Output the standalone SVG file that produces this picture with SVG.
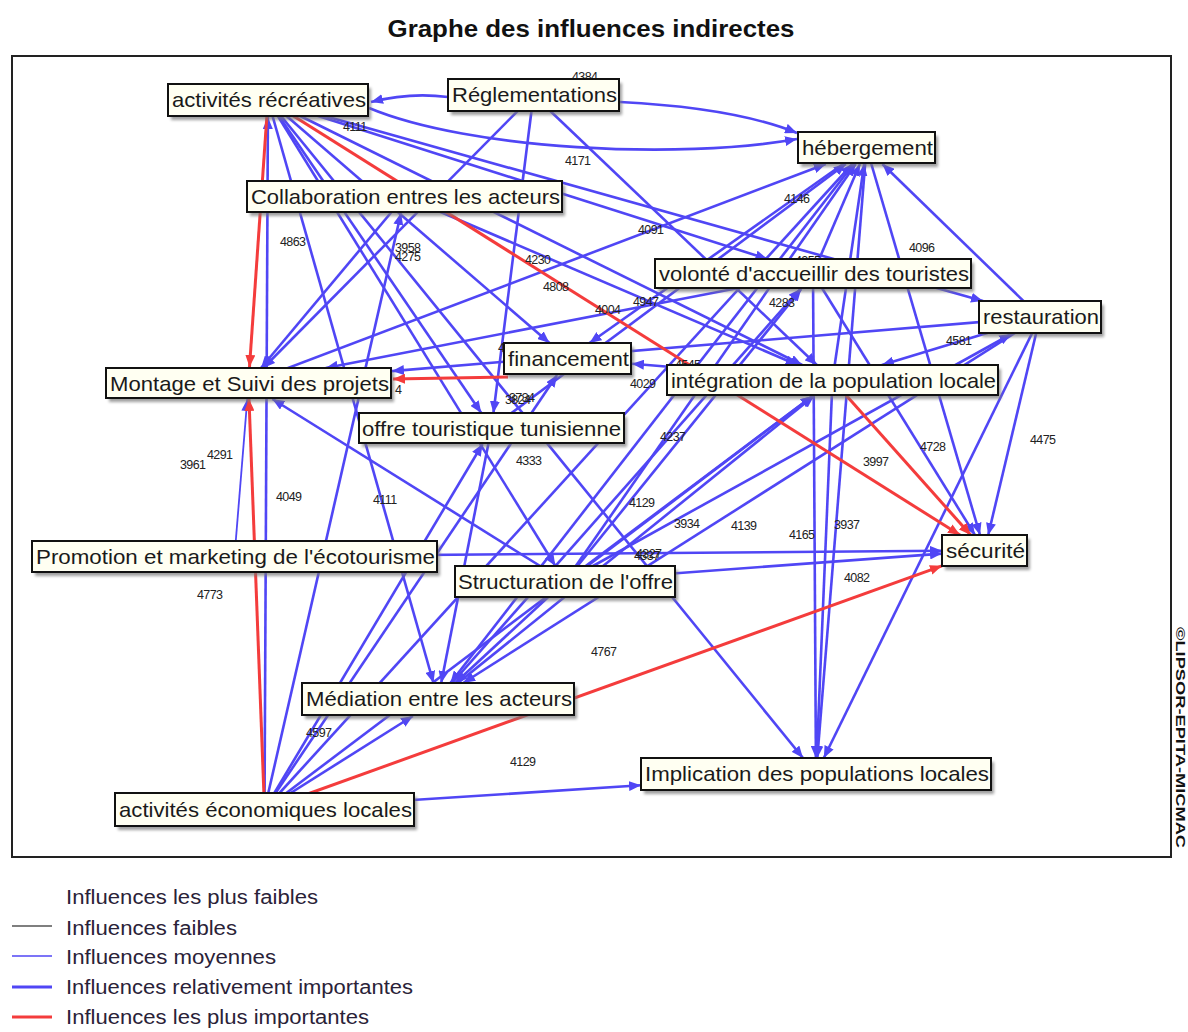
<svg xmlns="http://www.w3.org/2000/svg" width="1188" height="1032" viewBox="0 0 1188 1032">
<style>
.b{stroke:#5046f5;stroke-width:2.6;fill:none;marker-end:url(#ab)}
.bt{stroke:#5046f5;stroke-width:1.8;fill:none;marker-end:url(#ab)}
.r{stroke:#f43c3c;stroke-width:3;fill:none;marker-end:url(#ar)}
.lab{font-family:"Liberation Sans",Arial,sans-serif;font-size:12.5px;fill:#222;letter-spacing:-0.6px}
.box{fill:#fffff2;stroke:#111;stroke-width:2}
.sh{fill:#777;opacity:.7;filter:url(#blur)}
.nt{font-family:"Liberation Sans",Arial,sans-serif;font-size:21px;fill:#1a1a1a}
.lg{font-family:"Liberation Sans",Arial,sans-serif;font-size:20px;fill:#2a2238}
</style>
<defs>
<marker id="ab" markerUnits="userSpaceOnUse" markerWidth="13" markerHeight="10" refX="12" refY="5" orient="auto"><path d="M0,0 L12,5 L0,10 z" fill="#5046f5"/></marker>
<marker id="ar" markerUnits="userSpaceOnUse" markerWidth="13" markerHeight="10" refX="12" refY="5" orient="auto"><path d="M0,0 L12,5 L0,10 z" fill="#f43c3c"/></marker>
<filter id="blur" x="-10%" y="-30%" width="120%" height="160%"><feGaussianBlur stdDeviation="1.5"/></filter>
</defs>
<rect x="0" y="0" width="1188" height="1032" fill="#fff"/>
<text x="591" y="37" text-anchor="middle" font-family="'Liberation Sans',Arial,sans-serif" font-weight="bold" font-size="24" fill="#111" textLength="407" lengthAdjust="spacingAndGlyphs">Graphe des influences indirectes</text>
<rect x="12" y="56" width="1159" height="801" fill="#fff" stroke="#222" stroke-width="2"/>
<text transform="translate(1176,627) rotate(90)" font-family="'Liberation Sans',Arial,sans-serif" font-weight="bold" font-size="13" fill="#111" textLength="221" lengthAdjust="spacingAndGlyphs">©LIPSOR-EPITA-MICMAC</text>

<g id="connectors">
<path class="b" d="M448,97 Q410,92 371,102"/>
<path class="b" d="M369,108 C470,150 680,160 797,139"/>
<path class="b" d="M620,102 C700,106 755,116 797,133"/>
<path class="b" d="M264.5,809.5 L267.9,117"/>
<path class="bt" d="M234.5,556.5 L247.3,399"/>
<path class="b" d="M268,100 L433.5,683"/>
<path class="b" d="M268,100 L481.3,413"/>
<path class="b" d="M268,100 L549.5,343"/>
<path class="b" d="M268,100 L802.2,365"/>
<path class="b" d="M268,100 L767.4,259"/>
<path class="b" d="M268,100 L983,301"/>
<path class="b" d="M533.5,95 L263.3,368"/>
<path class="b" d="M533.5,95 L493.4,413"/>
<path class="b" d="M533.5,95 L816.8,365"/>
<path class="b" d="M404.5,196.5 L261,368"/>
<path class="b" d="M404.5,196.5 L797.5,365"/>
<path class="b" d="M264.5,809.5 L401,213"/>
<path class="b" d="M264.5,809.5 L557.1,375"/>
<path class="b" d="M264.5,809.5 L852.4,164"/>
<path class="b" d="M264.5,809.5 L412.9,716"/>
<path class="b" d="M264.5,809.5 L482.6,444"/>
<path class="b" d="M264.5,809.5 L641,785.3"/>
<path class="b" d="M866.5,147.5 L980,535"/>
<path class="b" d="M1040,317 L988.2,535"/>
<path class="b" d="M813,273.5 L974.9,535"/>
<path class="b" d="M234.5,556.5 L942,550.8"/>
<path class="b" d="M565,581.5 L942,553.6"/>
<path class="b" d="M866.5,147.5 L817.3,758"/>
<path class="b" d="M813,273.5 L815.9,758"/>
<path class="b" d="M832.5,380 L816.7,758"/>
<path class="b" d="M1040,317 L823.8,758"/>
<path class="b" d="M268,100 L803,758"/>
<path class="b" d="M1040,317 L463.2,683"/>
<path class="b" d="M491.5,428 L441.2,683"/>
<path class="b" d="M832.5,380 L632,363.7"/>
<path class="b" d="M1040,317 L392,371.1"/>
<path class="b" d="M248.5,383 L825.8,164"/>
<path class="b" d="M866.5,147.5 L589.5,343"/>
<path class="b" d="M565,581.5 L855.7,164"/>
<path class="b" d="M866.5,147.5 L450.4,683"/>
<path class="b" d="M565,581.5 L812.6,396"/>
<path class="b" d="M438,699 L814,396"/>
<path class="b" d="M565,581.5 L801.3,289"/>
<path class="b" d="M438,699 L800.2,289"/>
<path class="b" d="M264.5,809.5 L812.7,396"/>
<path class="b" d="M565,581.5 L1011.3,334"/>
<path class="b" d="M1040,317 L882.4,164"/>
<path class="b" d="M813,273.5 L325.8,368"/>
<path class="b" d="M268,100 L555.4,566"/>
<path class="b" d="M565,581.5 L272.4,399"/>
<path class="b" d="M565,581.5 L455.3,683"/>
<path class="b" d="M813,273.5 L859.9,164"/>
<path class="b" d="M832.5,380 L864.2,164"/>
<path class="b" d="M491.5,428 L845.8,164"/>
<path class="b" d="M1040,317 L881.9,365"/>
<path class="r" d="M268,100 L249.5,367"/>
<path class="r" d="M264.5,809.5 L249,399"/>
<path class="r" d="M268,100 L960,535"/>
<path class="r" d="M832.5,380 L970.7,535"/>
<path class="r" d="M264.5,809.5 L942,565.8"/>
<path class="r" d="M508,377 L393,379"/>
</g>

<g id="labels">
<text class="lab" x="572" y="81">4384</text>
<text class="lab" x="343" y="131">4111</text>
<text class="lab" x="565" y="165">4171</text>
<text class="lab" x="784" y="203">4146</text>
<text class="lab" x="638" y="234">4091</text>
<text class="lab" x="909" y="252">4096</text>
<text class="lab" x="280" y="246">4863</text>
<text class="lab" x="395" y="252">3958</text>
<text class="lab" x="395" y="261">4275</text>
<text class="lab" x="525" y="264">4230</text>
<text class="lab" x="543" y="291">4808</text>
<text class="lab" x="795" y="265">4255</text>
<text class="lab" x="595" y="314">4004</text>
<text class="lab" x="633" y="306">4947</text>
<text class="lab" x="769" y="307">4283</text>
<text class="lab" x="946" y="345">4581</text>
<text class="lab" x="675" y="369">4545</text>
<text class="lab" x="630" y="388">4029</text>
<text class="lab" x="505" y="404">3824</text>
<text class="lab" x="509" y="402">3734</text>
<text class="lab" x="395" y="394">4</text>
<text class="lab" x="498" y="352">4</text>
<text class="lab" x="660" y="441">4237</text>
<text class="lab" x="920" y="451">4728</text>
<text class="lab" x="1030" y="444">4475</text>
<text class="lab" x="863" y="466">3997</text>
<text class="lab" x="180" y="469">3961</text>
<text class="lab" x="207" y="459">4291</text>
<text class="lab" x="516" y="465">4333</text>
<text class="lab" x="276" y="501">4049</text>
<text class="lab" x="373" y="504">4111</text>
<text class="lab" x="629" y="507">4129</text>
<text class="lab" x="674" y="528">3934</text>
<text class="lab" x="731" y="530">4139</text>
<text class="lab" x="789" y="539">4165</text>
<text class="lab" x="834" y="529">3937</text>
<text class="lab" x="634" y="560">4337</text>
<text class="lab" x="636" y="558">4327</text>
<text class="lab" x="844" y="582">4082</text>
<text class="lab" x="197" y="599">4773</text>
<text class="lab" x="591" y="656">4767</text>
<text class="lab" x="306" y="737">4597</text>
<text class="lab" x="510" y="766">4129</text>
</g>

<g id="node-activites-recreatives"><rect class="sh" x="171" y="88" width="200" height="32"/><rect class="box" x="168" y="84" width="200" height="32"/><text class="nt" x="172" y="107" textLength="194" lengthAdjust="spacingAndGlyphs">activités récréatives</text></g>
<g id="node-reglementations"><rect class="sh" x="451" y="83" width="171" height="32"/><rect class="box" x="448" y="79" width="171" height="32"/><text class="nt" x="452" y="102" textLength="165" lengthAdjust="spacingAndGlyphs">Réglementations</text></g>
<g id="node-hebergement"><rect class="sh" x="801" y="136" width="137" height="31"/><rect class="box" x="798" y="132" width="137" height="31"/><text class="nt" x="802" y="155" textLength="131" lengthAdjust="spacingAndGlyphs">hébergement</text></g>
<g id="node-collaboration"><rect class="sh" x="250" y="185" width="315" height="31"/><rect class="box" x="247" y="181" width="315" height="31"/><text class="nt" x="251" y="204" textLength="309" lengthAdjust="spacingAndGlyphs">Collaboration entres les acteurs</text></g>
<g id="node-volonte"><rect class="sh" x="658" y="263" width="316" height="29"/><rect class="box" x="655" y="259" width="316" height="29"/><text class="nt" x="659" y="281" textLength="310" lengthAdjust="spacingAndGlyphs">volonté d'accueillir des touristes</text></g>
<g id="node-restauration"><rect class="sh" x="982" y="305" width="122" height="32"/><rect class="box" x="979" y="301" width="122" height="32"/><text class="nt" x="983" y="324" textLength="116" lengthAdjust="spacingAndGlyphs">restauration</text></g>
<g id="node-financement"><rect class="sh" x="507" y="347" width="127" height="31"/><rect class="box" x="504" y="343" width="127" height="31"/><text class="nt" x="508" y="366" textLength="121" lengthAdjust="spacingAndGlyphs">financement</text></g>
<g id="node-integration"><rect class="sh" x="670" y="369" width="331" height="30"/><rect class="box" x="667" y="365" width="331" height="30"/><text class="nt" x="671" y="388" textLength="325" lengthAdjust="spacingAndGlyphs">intégration de la population locale</text></g>
<g id="node-montage"><rect class="sh" x="109" y="372" width="285" height="30"/><rect class="box" x="106" y="368" width="285" height="30"/><text class="nt" x="110" y="391" textLength="279" lengthAdjust="spacingAndGlyphs">Montage et Suivi des projets</text></g>
<g id="node-offre"><rect class="sh" x="362" y="417" width="265" height="30"/><rect class="box" x="359" y="413" width="265" height="30"/><text class="nt" x="362" y="436" textLength="259" lengthAdjust="spacingAndGlyphs">offre touristique tunisienne</text></g>
<g id="node-promotion"><rect class="sh" x="35" y="545" width="405" height="31"/><rect class="box" x="32" y="541" width="405" height="31"/><text class="nt" x="36" y="564" textLength="399" lengthAdjust="spacingAndGlyphs">Promotion et marketing de l'écotourisme</text></g>
<g id="node-securite"><rect class="sh" x="945" y="539" width="85" height="31"/><rect class="box" x="942" y="535" width="85" height="31"/><text class="nt" x="946" y="558" textLength="79" lengthAdjust="spacingAndGlyphs">sécurité</text></g>
<g id="node-structuration"><rect class="sh" x="458" y="570" width="220" height="31"/><rect class="box" x="455" y="566" width="220" height="31"/><text class="nt" x="458" y="589" textLength="215" lengthAdjust="spacingAndGlyphs">Structuration de l'offre</text></g>
<g id="node-mediation"><rect class="sh" x="305" y="687" width="272" height="32"/><rect class="box" x="302" y="683" width="272" height="32"/><text class="nt" x="306" y="706" textLength="266" lengthAdjust="spacingAndGlyphs">Médiation entre les acteurs</text></g>
<g id="node-activites-economiques"><rect class="sh" x="118" y="797" width="299" height="33"/><rect class="box" x="115" y="793" width="299" height="33"/><text class="nt" x="119" y="817" textLength="293" lengthAdjust="spacingAndGlyphs">activités économiques locales</text></g>
<g id="node-implication"><rect class="sh" x="644" y="762" width="350" height="32"/><rect class="box" x="641" y="758" width="350" height="32"/><text class="nt" x="645" y="781" textLength="344" lengthAdjust="spacingAndGlyphs">Implication des populations locales</text></g>

<g id="legend">
<text class="lg" x="66" y="904" textLength="252" lengthAdjust="spacingAndGlyphs">Influences les plus faibles</text>
<line x1="12" y1="926" x2="52" y2="926" stroke="#555" stroke-width="1.5"/>
<text class="lg" x="66" y="935" textLength="171" lengthAdjust="spacingAndGlyphs">Influences faibles</text>
<line x1="12" y1="956" x2="52" y2="956" stroke="#5046f5" stroke-width="1.5"/>
<text class="lg" x="66" y="964" textLength="210" lengthAdjust="spacingAndGlyphs">Influences moyennes</text>
<line x1="12" y1="987" x2="52" y2="987" stroke="#5046f5" stroke-width="3"/>
<text class="lg" x="66" y="994" textLength="347" lengthAdjust="spacingAndGlyphs">Influences relativement importantes</text>
<line x1="12" y1="1017" x2="52" y2="1017" stroke="#f43c3c" stroke-width="3"/>
<text class="lg" x="66" y="1024" textLength="303" lengthAdjust="spacingAndGlyphs">Influences les plus importantes</text>
</g>
</svg>
